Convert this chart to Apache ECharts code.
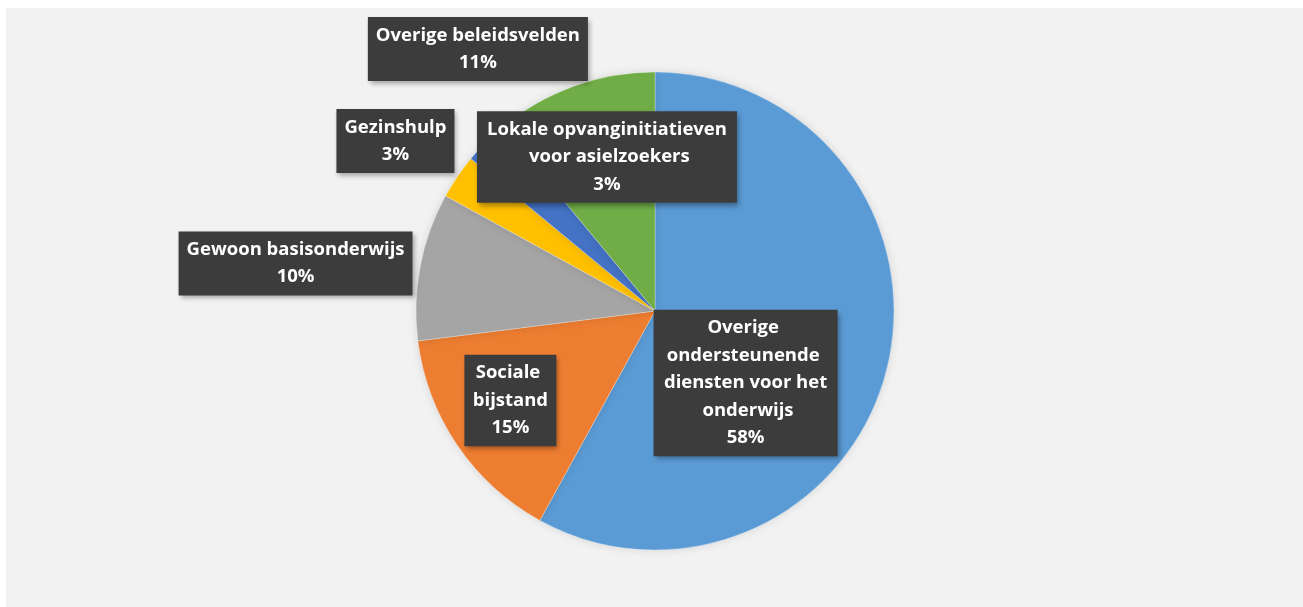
<!DOCTYPE html>
<html>
<head>
<meta charset="utf-8">
<script src="https://cdn.jsdelivr.net/npm/echarts@6/dist/echarts.min.js"></script>
<style>
  html, body { margin: 0; padding: 0; background: #ffffff; width: 1303px; height: 607px; overflow: hidden; }
  #chart { position: absolute; left: 6px; top: 8px; width: 1297px; height: 599px; }
</style>
</head>
<body>
<div id="chart"></div>
<script>
// ---- data ----
const categories = [
  'Overige ondersteunende diensten voor het onderwijs',
  'Sociale bijstand',
  'Gewoon basisonderwijs',
  'Gezinshulp',
  'Lokale opvanginitiatieven voor asielzoekers',
  'Overige beleidsvelden'
];
const values = [58, 15, 10, 3, 3, 11];

// ---- styles / layout ----
const colors = ['#5B9BD5', '#ED7D31', '#A5A5A5', '#FFC000', '#4472C4', '#70AD47'];
const labelOffsets = [   // label centre relative to pie centre, in radii
  [0.379, 0.301],
  [-0.605, 0.374],
  [-1.504, -0.199],
  [-1.086, -0.711],
  [-0.201, -0.644],
  [-0.741, -1.096]
];
const labelWidths = [168, 76, null, null, 244, null];
const CX = 649, CY = 303, R = 239;

const chart = echarts.init(document.getElementById('chart'));
chart.setOption({
  backgroundColor: '#F2F2F2',
  animation: false,
  series: [{
    type: 'pie',
    center: [CX, CY],
    radius: [0, R],
    startAngle: 90,
    clockwise: true,
    avoidLabelOverlap: false,
    itemStyle: {
      borderColor: 'rgba(255,255,255,0.6)',
      borderWidth: 0.5,
      shadowBlur: 10,
      shadowColor: 'rgba(0,0,0,0.12)'
    },
    labelLine: { show: false },
    label: {
      show: true,
      position: 'inside',
      formatter: '{b}\n{d}%',
      color: '#ffffff',
      fontFamily: 'Open Sans',
      fontWeight: 'bold',
      fontSize: 18.5,
      lineHeight: 27.5,
      align: 'center',
      backgroundColor: '#3c3c3c',
      padding: [5, 8, 4, 8],
      shadowColor: 'rgba(0,0,0,0.35)',
      shadowBlur: 5,
      shadowOffsetX: 2,
      shadowOffsetY: 3
    },
    labelLayout: function (p) {
      const o = labelOffsets[p.dataIndex];
      return { x: CX + o[0] * R, y: CY + o[1] * R, align: 'center', verticalAlign: 'middle' };
    },
    data: categories.map(function (c, i) {
      const lbl = labelWidths[i] ? { width: labelWidths[i], overflow: 'break' } : {};
      return {
        name: c,
        value: values[i],
        itemStyle: { color: colors[i] },
        label: lbl
      };
    })
  }]
});
</script>
</body>
</html>
